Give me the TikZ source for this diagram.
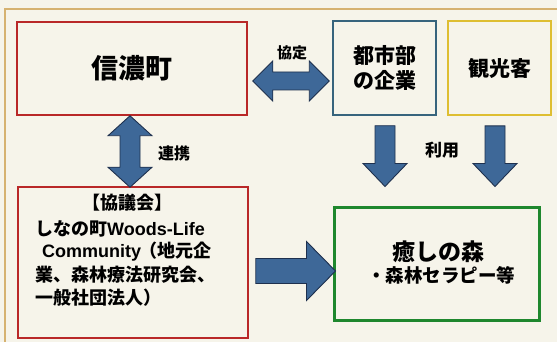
\documentclass[tikz,border=0pt]{standalone}
\usepackage{fontspec}
\newfontfamily\jp{Noto Sans CJK JP}
\newfontfamily\lat{Liberation Sans}
\usetikzlibrary{calc}
\definecolor{paper}{RGB}{246,244,234}
\definecolor{framec}{RGB}{214,178,112}
\definecolor{redbox}{RGB}{185,40,40}
\definecolor{bluebox}{RGB}{55,100,125}
\definecolor{yellowbox}{RGB}{222,190,50}
\definecolor{greenbox}{RGB}{30,135,45}
\definecolor{arrowblue}{RGB}{62,104,152}
\definecolor{arrowedge}{RGB}{30,48,78}
\begin{document}
\begin{tikzpicture}[x=1pt,y=-1pt,
  box/.style={draw, line width=1.5pt, inner sep=0pt},
  lbl/.style={font=\jp\bfseries, inner sep=0pt},
  kyotext/.style={lbl, anchor=west, font=\jp\bfseries\fontsize{18}{23}\selectfont},
  blk/.style={fill=arrowblue, draw=arrowedge, line width=0.9pt, line join=miter}]
\fill[paper] (0,0) rectangle (557,342);
\useasboundingbox (0,0) rectangle (557,342);
\draw[framec, line width=2.5pt] (557,9) -- (5,9) -- (5,342);

% boxes
\node[box, draw=redbox, minimum width=230pt, minimum height=93pt,
      font=\jp\bfseries\fontsize{27}{30}\selectfont] (sn) at (132,68.5) {信濃町};
\node[box, draw=bluebox, minimum width=103pt, minimum height=94pt, align=center,
      font=\jp\bfseries\fontsize{21}{25}\selectfont] (toshi) at (384.5,68) {都市部\\の企業};
\node[box, draw=yellowbox, line width=1.8pt, minimum width=103pt, minimum height=94pt,
      font=\jp\bfseries\fontsize{21}{25}\selectfont] (kanko) at (499.5,68) {観光客};
\node[box, draw=redbox, minimum width=230pt, minimum height=151pt] (kyo) at (133,262.5) {};
\node[box, draw=greenbox, line width=3pt, minimum width=205pt, minimum height=113pt] (iyashi) at (436.5,263.5) {};

% text inside lower boxes
\node[lbl, font=\jp\bfseries\fontsize{18}{23}\selectfont] (kyo1) at (127,203) {【協議会】};
\node[kyotext] (kyo2) at (35,229) {しなの町{\lat\fontsize{18}{23}\selectfont Woods-Life}};
\node[kyotext] (kyo3) at (42,252) {{\lat\fontsize{18}{23}\selectfont Community}\hspace{-2pt}（地元企};
\node[kyotext] (kyo4) at (35,275) {業、森林療法研究会、};
\node[kyotext] (kyo5) at (35,298) {一般社団法人）};
\node[lbl, font=\jp\bfseries\fontsize{23}{25}\selectfont] (iy1) at (438,252) {癒しの森};
\node[lbl, font=\jp\bfseries\fontsize{18.5}{22}\selectfont] (iy2) at (441,275) {・森林セラピー等};

% arrow key points
\coordinate (hL) at ($(sn.east)+(5,12.5)$);
\coordinate (hR) at ($(toshi.west)+(-3,13)$);
\coordinate (vT) at ($(sn.south)+(-2,0)$);
\coordinate (vB) at ($(kyo.north)+(-3,1)$);
\coordinate (d1s) at ($(toshi.south)+(0.5,10)$);
\coordinate (d1e) at ($(toshi.south |- iyashi.north)+(0.5,-19)$);
\coordinate (d2s) at ($(kanko.south)+(-4.5,10)$);
\coordinate (d2e) at ($(kanko.south |- iyashi.north)+(-4.5,-19)$);
\coordinate (rs) at ($(kyo.east)+(7,8.5)$);
\coordinate (re) at ($(iyashi.west)+(3,7.5)$);

% horizontal double arrow
\draw[blk] (hL) -- ++(20,-20) -- ++(0,11) -- ($(hR)+(-20,-9)$) -- ++(0,-11) -- (hR)
  -- ++(-20,20) -- ++(0,-11) -- ($(hL)+(20,9)$) -- ++(0,11) -- cycle;
% vertical double arrow
\draw[blk] (vT) -- ++(22,20) -- ++(-12,0) -- ($(vB)+(10,-20)$) -- ++(12,0) -- (vB)
  -- ++(-22,-20) -- ++(12,0) -- ($(vT)+(-10,20)$) -- ++(-12,0) -- cycle;
% down arrows
\draw[blk] ($(d1s)+(-10,0)$) -- ($(d1s)+(10,0)$) -- ($(d1e)+(10,-23)$) -- ++(12,0) -- (d1e)
  -- ++(-22,-23) -- ++(12,0) -- cycle;
\draw[blk] ($(d2s)+(-10,0)$) -- ($(d2s)+(10,0)$) -- ($(d2e)+(10,-23)$) -- ++(12,0) -- (d2e)
  -- ++(-22,-23) -- ++(12,0) -- cycle;
% right arrow
\draw[blk] ($(rs)+(0,-12.5)$) -- ($(re)+(-29,-12.5)$) -- ++(0,-17) -- (re) -- ++(-29,29.5)
  -- ++(0,-17) -- ($(rs)+(0,12.5)$) -- cycle;

% labels
\node[lbl, font=\jp\bfseries\fontsize{15}{15}\selectfont] (kyotei) at (292,53) {協定};
\node[lbl, font=\jp\bfseries\fontsize{16}{16}\selectfont] (renkei) at (174,153) {連携};
\node[lbl, font=\jp\bfseries\fontsize{17}{17}\selectfont] (riyou) at (442,150) {利用};
\end{tikzpicture}
\end{document}
